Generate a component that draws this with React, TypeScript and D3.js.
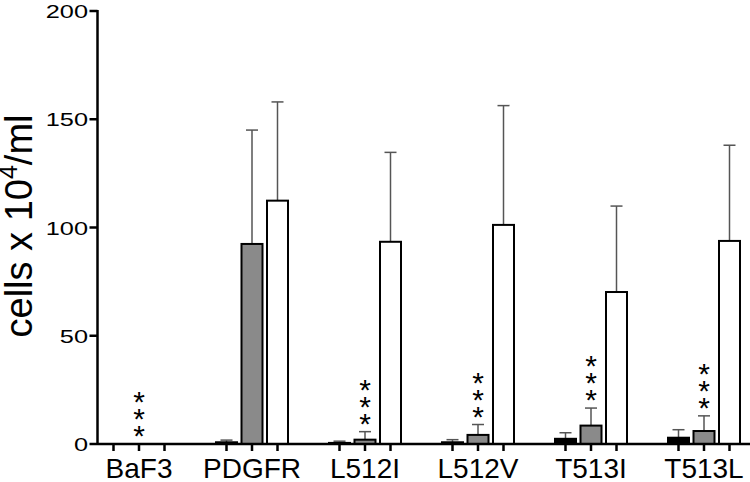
import React from "react";
import * as d3 from "d3";

const categories = ["BaF3", "PDGFR", "L512I", "L512V", "T513I", "T513L"];
const seriesNames = ["black", "gray", "white"];
const blackValues = [0, 0.8, 0.5, 0.8, 2.4, 2.9];
const blackErrors = [0, 1.8, 1.3, 2.0, 5.2, 6.6];
const grayValues = [0, 92.4, 2.0, 4.2, 8.5, 6.0];
const grayErrors = [0, 145, 5.7, 9.0, 16.6, 13.0];
const whiteValues = [0, 112.4, 93.4, 101.2, 70.2, 93.8];
const whiteErrors = [0, 158, 134.7, 156.3, 109.9, 138];
const starred = [true, false, true, true, true, true];
const yTicks = [0, 50, 100, 150, 200];

const W = 750;
const H = 482;
const FONT = "'Liberation Sans', Arial, Helvetica, sans-serif";

export default function App() {
  const y = d3.scaleLinear().domain([0, 200]).range([444, 11]);
  const x0 = d3.scaleBand().domain(categories).range([82.5, 760.5]).padding(0);
  const x1 = d3
    .scaleBand()
    .domain(seriesNames)
    .range([-38.25, 38.25])
    .paddingInner(0.176)
    .paddingOuter(0.088);
  const bw = 21;
  const fills = ["#000000", "#8a8a8a", "#ffffff"];
  const vals = [blackValues, grayValues, whiteValues];
  const errs = [blackErrors, grayErrors, whiteErrors];
  const axisX = 97.5;
  const baseY = y(0);

  const center = (cat: string, s: string) =>
    (x0(cat) as number) + x0.bandwidth() / 2 + (x1(s) as number) + x1.bandwidth() / 2;

  return (
    <svg
      width={W}
      height={H}
      style={{ position: "absolute", left: 0, top: 0, background: "#fff" }}
      fontFamily={FONT}
    >
      <rect width={W} height={H} fill="#fff" />
      {/* error bars */}
      {categories.map((c, i) =>
        seriesNames.map((s, k) => {
          const v = vals[k][i];
          if (v <= 0) return null;
          const cx = center(c, s);
          const e = errs[k][i];
          return (
            <g key={`e-${c}-${s}`} stroke="#555" strokeWidth={1.5}>
              <line x1={cx} x2={cx} y1={y(v)} y2={y(e)} />
              <line x1={cx - 6} x2={cx + 6} y1={y(e)} y2={y(e)} />
            </g>
          );
        })
      )}
      {/* bars */}
      {categories.map((c, i) =>
        seriesNames.map((s, k) => {
          const v = vals[k][i];
          if (v <= 0) return null;
          const cx = center(c, s);
          return (
            <rect
              key={`b-${c}-${s}`}
              x={cx - bw / 2}
              y={y(v)}
              width={bw}
              height={baseY - y(v)}
              fill={fills[k]}
              stroke="#000"
              strokeWidth={2}
            />
          );
        })
      )}
      {/* stars */}
      {categories.map((c, i) => {
        if (!starred[i]) return null;
        const cx = center(c, "gray");
        const top = grayValues[i] > 0 ? y(grayErrors[i]) : baseY;
        return [0, 1, 2].map((j) => {
          const cy = top - 15 - j * 17;
          return (
            <text
              key={`s-${c}-${j}`}
              x={cx}
              y={cy + 17}
              textAnchor="middle"
              fontSize={30}
              fill="#000"
            >
              *
            </text>
          );
        });
      })}
      {/* x axis */}
      <line x1={axisX} x2={W} y1={baseY} y2={baseY} stroke="#000" strokeWidth={2.5} />
      {categories.map((c) =>
        seriesNames.map((s) => {
          const cx = center(c, s);
          return (
            <line
              key={`t-${c}-${s}`}
              x1={cx}
              x2={cx}
              y1={baseY}
              y2={baseY + 7}
              stroke="#000"
              strokeWidth={2.5}
            />
          );
        })
      )}
      {categories.map((c) => (
        <text
          key={`xl-${c}`}
          x={(x0(c) as number) + x0.bandwidth() / 2}
          y={478}
          textAnchor="middle"
          fontSize={28}
          fill="#000"
        >
          {c}
        </text>
      ))}
      {/* y axis */}
      <line x1={axisX} x2={axisX} y1={y(200) - 1} y2={baseY + 1} stroke="#000" strokeWidth={2.5} />
      {yTicks.map((t) => (
        <g key={`yt-${t}`}>
          <line x1={axisX - 8} x2={axisX} y1={y(t)} y2={y(t)} stroke="#000" strokeWidth={2.5} />
          <text
            transform={`translate(88, ${y(t) + 7}) scale(1.37, 1)`}
            textAnchor="end"
            fontSize={18.5}
            fill="#000"
          >
            {t}
          </text>
        </g>
      ))}
      <text
        transform={`translate(32, 226) rotate(-90)`}
        textAnchor="middle"
        fontSize={38}
        fill="#000"
      >
        cells x 10
        <tspan fontSize={25} dy={-15}>
          4
        </tspan>
        <tspan dy={15}>/ml</tspan>
      </text>
    </svg>
  );
}
